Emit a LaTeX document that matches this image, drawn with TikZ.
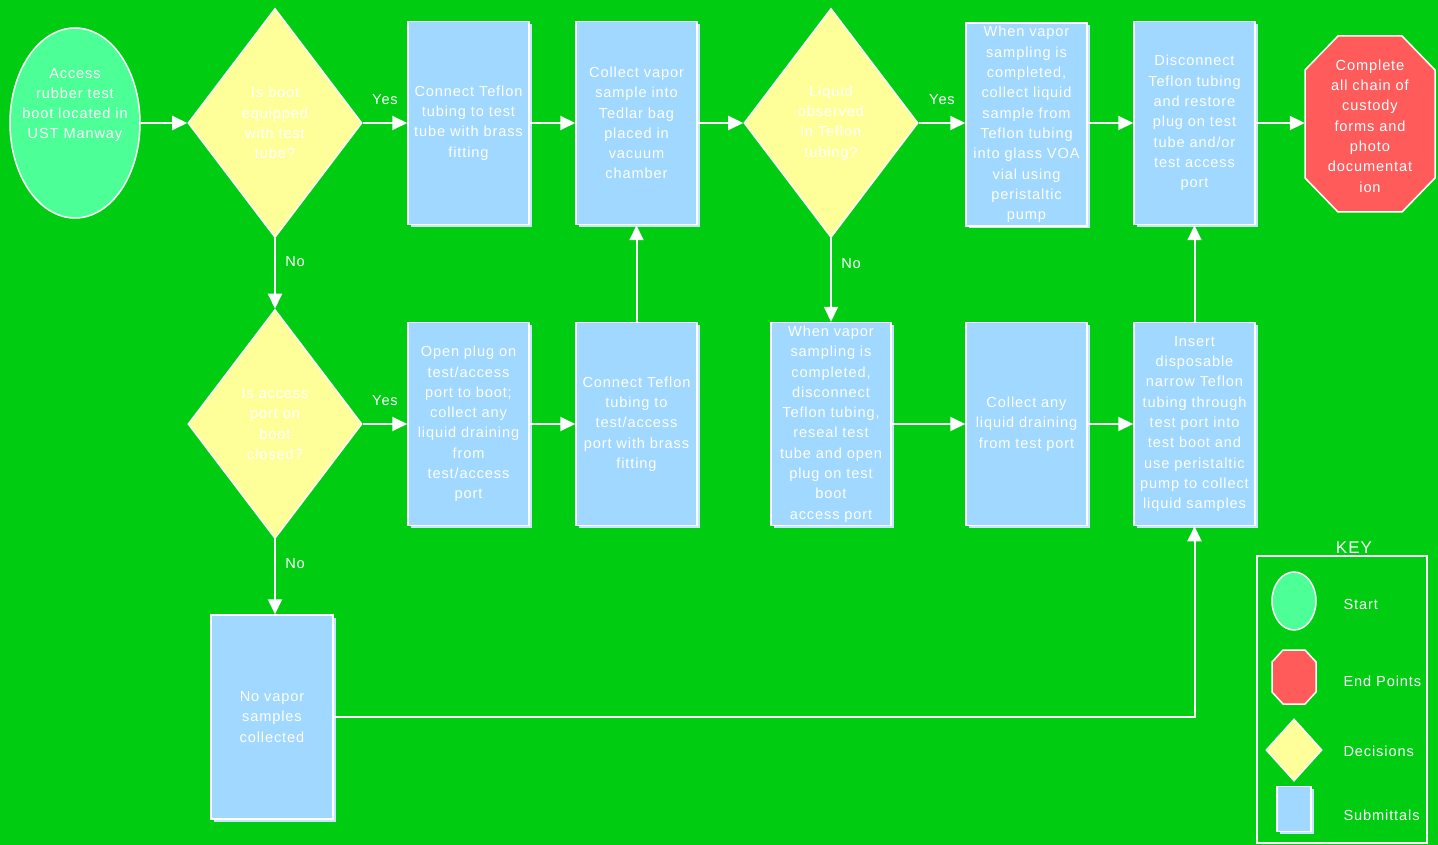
\documentclass[tikz,border=0pt]{standalone}
\usepackage{fontspec}
\setmainfont{Liberation Sans}[LetterSpace=6]
\usetikzlibrary{arrows.meta,shapes.geometric,shadows}
\definecolor{bg}{HTML}{00CC11}
\definecolor{startgreen}{HTML}{4CFF96}
\definecolor{endred}{HTML}{FF5B5B}
\definecolor{decyellow}{HTML}{FFFF99}
\definecolor{boxblue}{HTML}{A0D8FF}
\definecolor{shadowblue}{HTML}{C4E6FF}
\tikzset{
  txt/.style={text=white, font=\fontsize{14.6}{20.3}\selectfont, align=center},
  stepbox/.style={txt, rectangle, fill=boxblue, draw=white, line width=1.5pt,
    minimum width=121pt, minimum height=203pt, text width=119pt, inner sep=0pt,
    drop shadow={shadow xshift=2.5pt, shadow yshift=-2.5pt, fill=shadowblue, opacity=1}},
  decision/.style={txt, diamond, fill=decyellow, draw=white, line width=1.5pt,
    minimum width=174pt, minimum height=229pt, text width=80pt, inner sep=0pt},
  startshape/.style={ellipse, fill=startgreen, draw=white, line width=1.5pt, inner sep=0pt},
  octfill/.style={fill=endred, draw=white, line width=1.5pt},
  arr/.style={draw=white, line width=2pt, -{Triangle[length=15pt,width=14pt]}},
  lbl/.style={text=white, font=\fontsize{14.6}{17}\selectfont},
}
\begin{document}
\begin{tikzpicture}[x=1pt,y=-1pt]
\fill[bg] (0,0) rectangle (1438,845);
\useasboundingbox (0,0) rectangle (1438,845);

% start
\node[startshape, minimum width=130pt, minimum height=190pt,
  label={[txt, text width=127pt, yshift=18pt]center:Access\\rubber test\\boot located in\\UST Manway}] (start) at (75,123) {};

% decisions
\node[decision] (d1) at (275,123) {Is boot\\equipped\\with test\\tube?};
\node[decision] (d3) at (275,424) {Is access\\port on\\boot\\closed?};
\node[decision] (d2) at (831,123) {Liquid\\observed\\in Teflon\\tubing?};

% top row boxes
\node[stepbox] (a) at (468.5,123) {Connect Teflon\\tubing to test\\tube with brass\\fitting};
\node[stepbox] (b) at (636.5,123) {Collect vapor\\sample into\\Tedlar bag\\placed in\\vacuum\\chamber};
\node[stepbox] (c) at (1026.5,124.5) {When vapor\\sampling is\\completed,\\collect liquid\\sample from\\Teflon tubing\\into glass VOA\\vial using\\peristaltic\\pump};
\node[stepbox] (dd) at (1194.5,123) {Disconnect\\Teflon tubing\\and restore\\plug on test\\tube and/or\\test access\\port};

% end octagon
\fill[octfill] (1338,36) -- (1402,36) -- (1435,70) -- (1435,178) -- (1402,212) -- (1338,212) -- (1305,178) -- (1305,70) -- cycle;
\node[txt, minimum width=130pt, minimum height=176pt, text width=120pt, inner sep=0pt] (end) at (1370,126)
  {Complete\\all chain of\\custody\\forms and\\photo\\documentat\\ion};

% bottom row boxes
\node[stepbox] (e) at (468.5,424) {Open plug on\\test/access\\port to boot;\\collect any\\liquid draining\\from\\test/access\\port};
\node[stepbox] (f) at (636.5,424) {Connect Teflon\\tubing to\\test/access\\port with brass\\fitting};
\node[stepbox, minimum width=120pt] (g) at (831,424) {When vapor\\sampling is\\completed,\\disconnect\\Teflon tubing,\\reseal test\\tube and open\\plug on test\\boot\\access port};
\node[stepbox] (h) at (1026.5,424) {Collect any\\liquid draining\\from test port};
\node[stepbox] (i) at (1194.5,424) {Insert\\disposable\\narrow Teflon\\tubing through\\test port into\\test boot and\\use peristaltic\\pump to collect\\liquid samples};

\node[stepbox, minimum width=122pt, minimum height=204pt] (j) at (272,717) {No vapor\\samples\\collected};

% connectors
\draw[arr] (start) -- (d1);
\draw[arr] (d1) -- node[lbl, above=14pt] {Yes} (a);
\draw[arr] (a) -- (b);
\draw[arr] (b) -- (d2);
\draw[arr] (d2) -- node[lbl, above=14pt] {Yes} (c.west |- d2.east);
\draw[arr] (c.east |- dd.west) -- (dd);
\draw[arr] (dd) -- (dd.east -| end.west);
\draw[arr] (d1) -- node[lbl, right=6pt, pos=0.33] {No} (d3);
\draw[arr] (d3) -- node[lbl, above=14pt] {Yes} (e);
\draw[arr] (e) -- (f);
\draw[arr] (f) -- (b);
\draw[arr] (d2) -- node[lbl, right=6pt, pos=0.3] {No} (g);
\draw[arr] (g) -- (h);
\draw[arr] (h) -- (i);
\draw[arr] (i) -- (dd);
\draw[arr] (d3.south) -- node[lbl, right=6pt, pos=0.32] {No} (d3.south |- j.north);
\draw[arr] (j.east) -| (i.south);

% key
\node[lbl, font=\fontsize{17}{19}\selectfont] (keytitle) at (1354,548) {KEY};
\draw[white, line width=1.5pt] (1257,556) rectangle (1427,843);
\node[startshape, minimum width=44pt, minimum height=58pt] (kstart) at (1294,601) {};
\fill[octfill] (1283,650) -- (1305,650) -- (1316,662) -- (1316,692) -- (1305,704) -- (1283,704) -- (1272,692) -- (1272,662) -- cycle;
\node[minimum width=44pt, minimum height=54pt, inner sep=0pt] (kend) at (1294,677) {};
\node[diamond, fill=decyellow, draw=white, line width=1.5pt, minimum width=56pt, minimum height=62pt, inner sep=0pt] (kdec) at (1294,750) {};
\node[stepbox, minimum width=34pt, minimum height=45pt, text width=30pt] (kbox) at (1294,809) {};
\node[lbl, anchor=west] (kl1) at (1340,604) {Start};
\node[lbl, anchor=west] (kl2) at (1340,681) {End Points};
\node[lbl, anchor=west] (kl3) at (1340,751) {Decisions};
\node[lbl, anchor=west] (kl4) at (1340,815) {Submittals};
\end{tikzpicture}
\end{document}
